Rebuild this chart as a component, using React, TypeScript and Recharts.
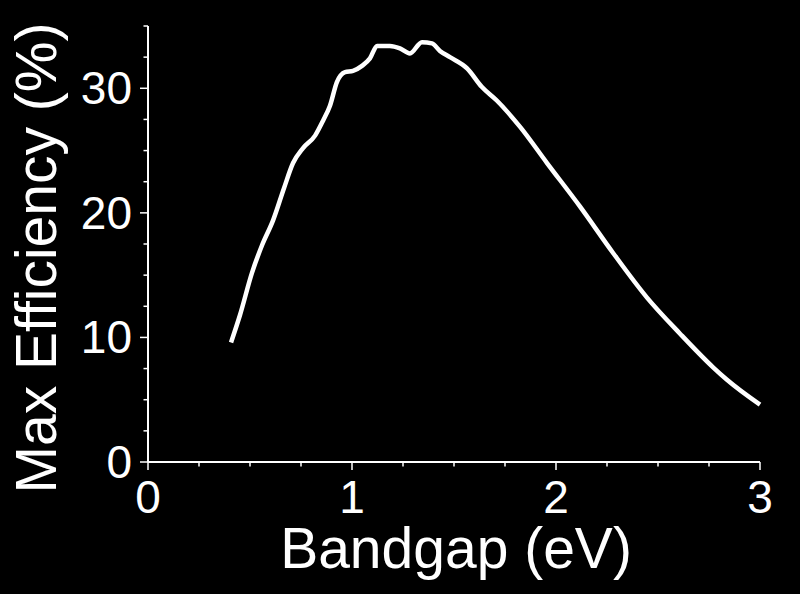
import { LineChart, Line, XAxis, YAxis, Label } from "recharts";

// bandgap (eV) and max efficiency (%)
const bandgap = [
  0.407, 0.451, 0.51, 0.559, 0.613, 0.667, 0.711, 0.76, 0.819, 0.858, 0.892, 0.926, 0.966, 1.005, 1.049,
  1.088, 1.123, 1.186, 1.235, 1.284, 1.343, 1.392, 1.431, 1.48, 1.564, 1.637, 1.711, 1.824, 1.956, 2.118,
  2.279, 2.446, 2.608, 2.77, 2.838, 3.0,
];
const efficiency = [
  9.6, 11.8, 15.2, 17.4, 19.4, 22.0, 24.0, 25.2, 26.2, 27.4, 28.6, 30.5, 31.3, 31.4, 31.8,
  32.4, 33.4, 33.4, 33.2, 32.8, 33.7, 33.6, 33.0, 32.5, 31.6, 30.1, 29.0, 26.9, 24.0, 20.5,
  16.8, 13.2, 10.3, 7.6, 6.6, 4.6,
];
const xTicks = [0, 0.25, 0.5, 0.75, 1, 1.25, 1.5, 1.75, 2, 2.25, 2.5, 2.75, 3];
const yTicks = [0, 2.5, 5, 7.5, 10, 12.5, 15, 17.5, 20, 22.5, 25, 27.5, 30, 32.5, 35];

const data = bandgap.map((x, i) => ({ x, y: efficiency[i] }));

const FONT = "'Liberation Sans', Arial, sans-serif";

function XTick(props: any) {
  const { x, y, payload } = props;
  const major = Number.isInteger(payload.value);
  return (
    <g>
      <line x1={x} x2={x} y1={y} y2={y + (major ? 8 : 4.5)} stroke="#fff" strokeWidth={1.5} />
      {major && (
        <text x={x} y={y + 51} textAnchor="middle" fill="#fff" fontSize={46} fontFamily={FONT}>
          {payload.value}
        </text>
      )}
    </g>
  );
}

function YTick(props: any) {
  const { x, y, payload } = props;
  const major = payload.value % 10 === 0;
  return (
    <g>
      <line x1={x} x2={x - (major ? 8 : 4.5)} y1={y} y2={y} stroke="#fff" strokeWidth={1.5} />
      {major && (
        <text x={x - 16} y={y + 16} textAnchor="end" fill="#fff" fontSize={46} fontFamily={FONT}>
          {payload.value}
        </text>
      )}
    </g>
  );
}

export default function App() {
  return (
    <div style={{ position: "absolute", left: 0, top: 0, width: 800, height: 594, background: "#000" }}>
      <LineChart width={800} height={594} data={data} margin={{ top: 26, right: 40, bottom: 0, left: 0 }}>
        <XAxis
          dataKey="x"
          type="number"
          domain={[0, 3]}
          ticks={xTicks}
          interval={0}
          height={132}
          stroke="#fff"
          strokeWidth={2}
          tickLine={false}
          tickSize={0}
          tickMargin={0}
          tick={<XTick />}
        >
          <Label
            content={() => (
              <text x={456} y={568} textAnchor="middle" fill="#fff" fontSize={57} fontFamily={FONT}>
                Bandgap (eV)
              </text>
            )}
          />
        </XAxis>
        <YAxis
          dataKey="y"
          type="number"
          domain={[0, 35]}
          ticks={yTicks}
          interval={0}
          width={148}
          stroke="#fff"
          strokeWidth={2}
          tickLine={false}
          tickSize={0}
          tickMargin={0}
          tick={<YTick />}
        >
          <Label
            content={() => (
              <text
                x={0}
                y={0}
                transform="translate(56,258) rotate(-90)"
                textAnchor="middle"
                fill="#fff"
                fontSize={57}
                fontFamily={FONT}
              >
                Max Efficiency (%)
              </text>
            )}
          />
        </YAxis>
        <Line
          type="monotone"
          dataKey="y"
          stroke="#fff"
          strokeWidth={4.5}
          dot={false}
          isAnimationActive={false}
        />
      </LineChart>
    </div>
  );
}
